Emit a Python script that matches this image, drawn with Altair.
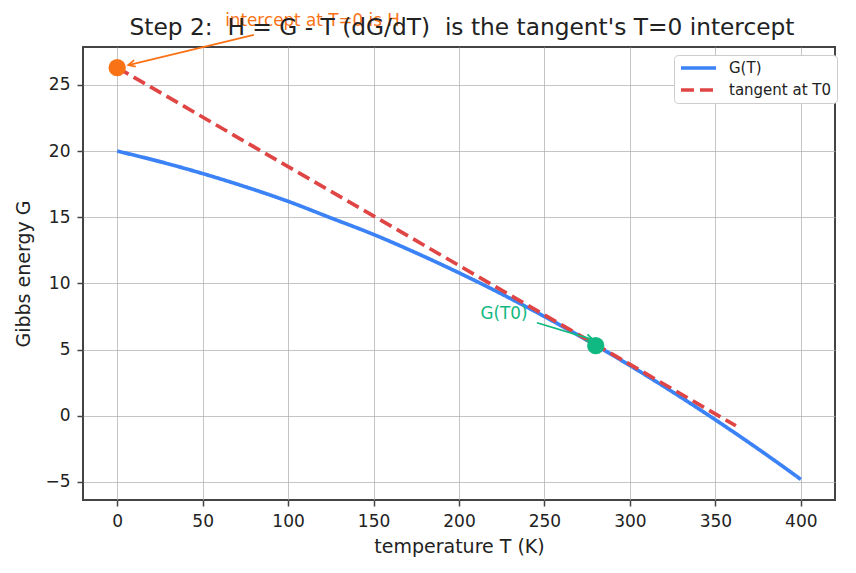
import altair as alt
import pandas as pd

# ---------------- data ----------------
T_curve = [0, 25, 50, 75, 100, 125, 150, 175, 200, 225, 250, 275, 300, 325, 350, 375, 400]
G_curve = [20.0, 19.2, 18.3, 17.3, 16.2, 14.95, 13.7, 12.3, 10.8, 9.2, 7.5, 5.7, 3.8, 1.8, -0.3, -2.5, -4.8]
T_tangent = [0, 362]
G_tangent = [26.3, -0.75]
series_names = ["G(T)", "tangent at T0"]

H_point_T = [0]
H_point_G = [26.3]
T0_point_T = [280]
T0_point_G = [5.3]

# non-breaking spaces keep the double spaces of the original title
title_text = "Step 2:\u00a0 H = G - T (dG/dT)\u00a0 is the tangent's T=0 intercept"
x_title = "temperature T (K)"
y_title = "Gibbs energy G"
x_ticks = [0, 50, 100, 150, 200, 250, 300, 350, 400]
y_ticks = [-5, 0, 5, 10, 15, 20, 25]

# annotations (data coordinates)
H_label = "intercept at T=0 is H"
H_label_pos = (114.3, 29.82)
H_arrow_T = [80.0, 6.5]
H_arrow_G = [28.77, 26.5]
T0_label = "G(T0)"
T0_label_pos = (226.3, 7.7)
T0_arrow_T = [245.6, 278.4]
T0_arrow_G = [7.03, 5.75]

# ---------------- styles ----------------
BLUE = "#3b82f6"
RED = "#e04545"
ORANGE = "#f97316"
GREEN = "#10b981"
FONT = "DejaVu Sans"
TXT = "#222222"

x_scale = alt.Scale(domain=[-20, 420], nice=False, zero=False)
y_scale = alt.Scale(domain=[-6.36, 27.86], nice=False, zero=False)

x_enc = alt.X("T:Q", scale=x_scale,
              axis=alt.Axis(values=x_ticks, title=x_title, format="d"))
y_enc = alt.Y("G:Q", scale=y_scale,
              axis=alt.Axis(values=y_ticks, title=y_title, format="d", titlePadding=11))

lines_df = pd.DataFrame({
    "T": T_curve + T_tangent,
    "G": G_curve + G_tangent,
    "series": [series_names[0]] * len(T_curve) + [series_names[1]] * len(T_tangent),
})

legend = alt.Legend(
    title=None, orient="none", legendX=591, legendY=8,
    strokeColor="#cccccc", fillColor="white", cornerRadius=4, padding=5,
    labelFont=FONT, labelFontSize=15, labelColor=TXT, labelOffset=11,
    symbolType="stroke", symbolSize=1225, symbolStrokeWidth=3.5,
    clipHeight=16, rowPadding=6,
)

lines = alt.Chart(lines_df).mark_line(interpolate="monotone", strokeWidth=3.7).encode(
    x=x_enc,
    y=y_enc,
    color=alt.Color("series:N", scale=alt.Scale(domain=series_names, range=[BLUE, RED]),
                    legend=legend),
    strokeDash=alt.StrokeDash("series:N",
                              scale=alt.Scale(domain=series_names, range=[[1, 0], [13, 6]]),
                              legend=legend),
)

def point_layer(T, G, color):
    df = pd.DataFrame({"T": T, "G": G})
    return alt.Chart(df).mark_circle(size=300, color=color, opacity=1).encode(
        x=alt.X("T:Q", scale=x_scale), y=alt.Y("G:Q", scale=y_scale))

def arrow_layers(T, G, color, angle):
    df = pd.DataFrame({"T": T, "G": G, "o": [0, 1]})
    shaft = alt.Chart(df).mark_line(color=color, strokeWidth=1.8, clip=False).encode(
        x=alt.X("T:Q", scale=x_scale), y=alt.Y("G:Q", scale=y_scale), order="o:Q")
    tip = pd.DataFrame({"T": [T[1]], "G": [G[1]]})
    head = alt.Chart(tip).mark_point(
        shape="M -1 -0.5 L 0 0 L -1 0.5", filled=False, size=185, angle=angle,
        color=color, strokeWidth=1.8, opacity=1, clip=False).encode(
        x=alt.X("T:Q", scale=x_scale), y=alt.Y("G:Q", scale=y_scale))
    return [shaft, head]

def label_layer(text, pos, color):
    df = pd.DataFrame({"T": [pos[0]], "G": [pos[1]], "txt": [text]})
    return alt.Chart(df).mark_text(font=FONT, fontSize=16.8, color=color,
                                   align="center", baseline="middle").encode(
        x=alt.X("T:Q", scale=x_scale), y=alt.Y("G:Q", scale=y_scale), text="txt:N")

layers = [lines,
          point_layer(H_point_T, H_point_G, ORANGE),
          point_layer(T0_point_T, T0_point_G, GREEN)]
layers += arrow_layers(H_arrow_T, H_arrow_G, ORANGE, 166.5)
layers += arrow_layers(T0_arrow_T, T0_arrow_G, GREEN, 16.9)
layers += [label_layer(H_label, H_label_pos, ORANGE),
           label_layer(T0_label, T0_label_pos, GREEN)]

chart = alt.layer(*layers).properties(
    width=752, height=453,
    autosize=alt.AutoSizeParams(type="none"),
    padding={"left": 83, "top": 47, "right": 21, "bottom": 73},
    title=alt.TitleParams(title_text, font=FONT, fontSize=23.3, fontWeight="normal",
                          color=TXT, anchor="middle", offset=-45, baseline="alphabetic",
                          frame="group", dx=3),
).configure(
    font=FONT,
).configure_view(
    stroke="#444444", strokeWidth=2,
).configure_axis(
    domain=False,
    grid=True, gridColor="#b0b0b0", gridWidth=1, gridOpacity=0.75,
    tickColor="#444444", tickWidth=1.5, tickSize=6,
    labelFont=FONT, labelFontSize=17, labelColor=TXT, labelPadding=7,
    titleFont=FONT, titleFontSize=19, titleFontWeight="normal", titleColor=TXT,
    titlePadding=8,
)

chart.save("out.html", embed_options={"renderer": "svg", "actions": False})
